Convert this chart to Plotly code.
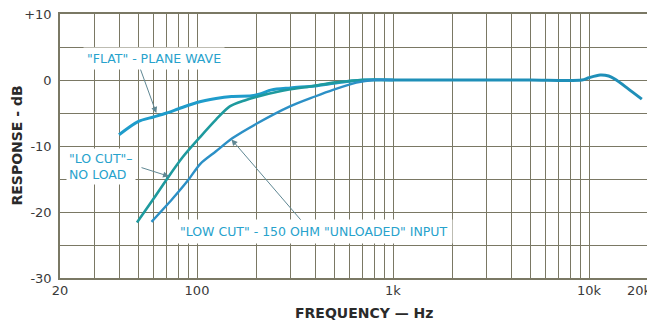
import math

import plotly.graph_objects as go

# response curves, frequency in Hz, level in dB
flat_freq = [40, 50, 60, 70, 80, 100, 125, 150, 190, 210, 240, 300, 400, 500, 600, 700, 1000]
flat_db = [-8.3, -6.3, -5.6, -5.0, -4.4, -3.4, -2.8, -2.5, -2.4, -2.1, -1.5, -1.2, -0.9, -0.5, -0.2, 0.0, 0.0]

locut_freq = [49.4, 60, 71, 85, 104, 125, 147, 175, 198, 265, 392, 500, 600, 700, 1000]
locut_db = [-21.6, -18.0, -14.8, -11.6, -8.6, -6.0, -4.0, -3.1, -2.6, -1.7, -0.9, -0.4, -0.15, 0.0, 0.0]

low150_freq = [58.6, 75, 90, 104, 125, 152, 202, 298, 400, 494, 650, 800, 1000]
low150_db = [-21.5, -18.0, -15.2, -12.7, -10.8, -8.8, -6.6, -4.0, -2.5, -1.5, -0.4, 0.0, 0.0]

# all three curves coincide above 1 kHz
tail_freq = [1000, 2000, 5000, 9200, 10000, 11400, 12600, 13600, 15800, 18600]
tail_db = [0.0, 0.0, 0.0, 0.0, 0.35, 0.75, 0.6, 0.1, -1.3, -2.9]

x_ticks = [20, 100, 1000, 10000, 20000]
x_ticktext = ["20", "100", "1k", "10k", ""]
x_last_label = "20k"
x_minor = [30, 40, 50, 60, 70, 80, 90, 200, 300, 400, 500, 600, 700, 800, 900,
           2000, 3000, 4000, 5000, 6000, 7000, 8000, 9000]
y_ticks = [-30, -25, -20, -15, -10, -5, 0, 5, 10]
y_ticktext = ["-30", "", "-20", "", "-10", "", "0", "", "+10"]

GRID = "#7a7864"
LABEL = "#27a2cc"
FONT = "DejaVu Sans"
TICK = dict(family=FONT, size=13, color="#3a3a3a")


def lx(f):
    return math.log10(f)


fig = go.Figure()
curves = [
    (flat_freq, flat_db, "#1f9ccb", 3),
    (locut_freq, locut_db, "#1e9a9e", 2.6),
    (low150_freq, low150_db, "#2c90c6", 2.4),
    (tail_freq, tail_db, "#1f8fb8", 3),
]
for fx, fy, col, w in curves:
    fig.add_trace(go.Scatter(
        x=fx, y=fy, mode="lines",
        line=dict(color=col, width=w, shape="spline", smoothing=0.8),
        showlegend=False, hoverinfo="skip",
    ))

ann = []
# curve labels
ann.append(dict(x=lx(26.2), y=3.3, xref="x", yref="y", xanchor="left", yanchor="middle",
                text='"FLAT" - PLANE WAVE', showarrow=False, bgcolor="white", borderpad=3,
                font=dict(family=FONT, size=12.5, color=LABEL)))
ann.append(dict(x=lx(21.4), y=-13.1, xref="x", yref="y", xanchor="left", yanchor="middle",
                text='"LO CUT"–<br>NO LOAD', align="left", showarrow=False, bgcolor="white",
                borderpad=2, font=dict(family=FONT, size=12.5, color=LABEL)))
ann.append(dict(x=lx(77.4), y=-23.0, xref="x", yref="y", xanchor="left", yanchor="middle",
                text='"LOW CUT" - 150 OHM "UNLOADED" INPUT', showarrow=False, bgcolor="white",
                borderpad=4, font=dict(family=FONT, size=12.5, color=LABEL)))
# pointer arrows
for tip, tail in [((62, -5.0), (51.2, 1.8)), ((72, -14.6), (51.2, -13.2)), ((150, -9.0), (343, -21.4))]:
    ann.append(dict(x=lx(tip[0]), y=tip[1], ax=lx(tail[0]), ay=tail[1],
                    xref="x", yref="y", axref="x", ayref="y", text="",
                    showarrow=True, arrowhead=2, arrowsize=1.2, arrowwidth=1,
                    arrowcolor="#5f8793"))
# last x tick label sits flush with the right edge
ann.append(dict(x=1.0105, y=-0.049, xref="paper", yref="paper", xanchor="right", yanchor="middle",
                text=x_last_label, showarrow=False, font=TICK))
# axis titles
ann.append(dict(x=0.517, y=-0.133, xref="paper", yref="paper", xanchor="center", yanchor="middle",
                text="FREQUENCY — Hz", showarrow=False,
                font=dict(family=FONT, size=14, color="#2a2a2a", weight="bold")))
ann.append(dict(x=-0.073, y=0.502, xref="paper", yref="paper", xanchor="center", yanchor="middle",
                text="RESPONSE - dB", textangle=-90, showarrow=False,
                font=dict(family=FONT, size=14, color="#2a2a2a", weight="bold")))

axis_common = dict(showgrid=True, gridcolor=GRID, gridwidth=1.3, showline=True, mirror=True,
                   linecolor=GRID, linewidth=1.5, zeroline=False, ticks="", automargin=False,
                   ticklabeloverflow="allow", tickfont=TICK)

# page body keeps its default 8px margin, so the figure is 8px smaller each way
fig.update_layout(
    width=647, height=317,
    margin=dict(l=52, r=7, t=6, b=47),
    paper_bgcolor="white", plot_bgcolor="white",
    annotations=ann,
    xaxis=dict(type="log", range=[lx(20), lx(20000)], tickmode="array",
               tickvals=x_ticks, ticktext=x_ticktext,
               minor=dict(tickmode="array", tickvals=x_minor, showgrid=True,
                          gridcolor=GRID, gridwidth=1.3, ticks=""),
               **axis_common),
    yaxis=dict(range=[-30, 10], tickmode="array", tickvals=y_ticks, ticktext=y_ticktext,
               ticklabelstandoff=4, **axis_common),
)

fig.write_html("out.html")
